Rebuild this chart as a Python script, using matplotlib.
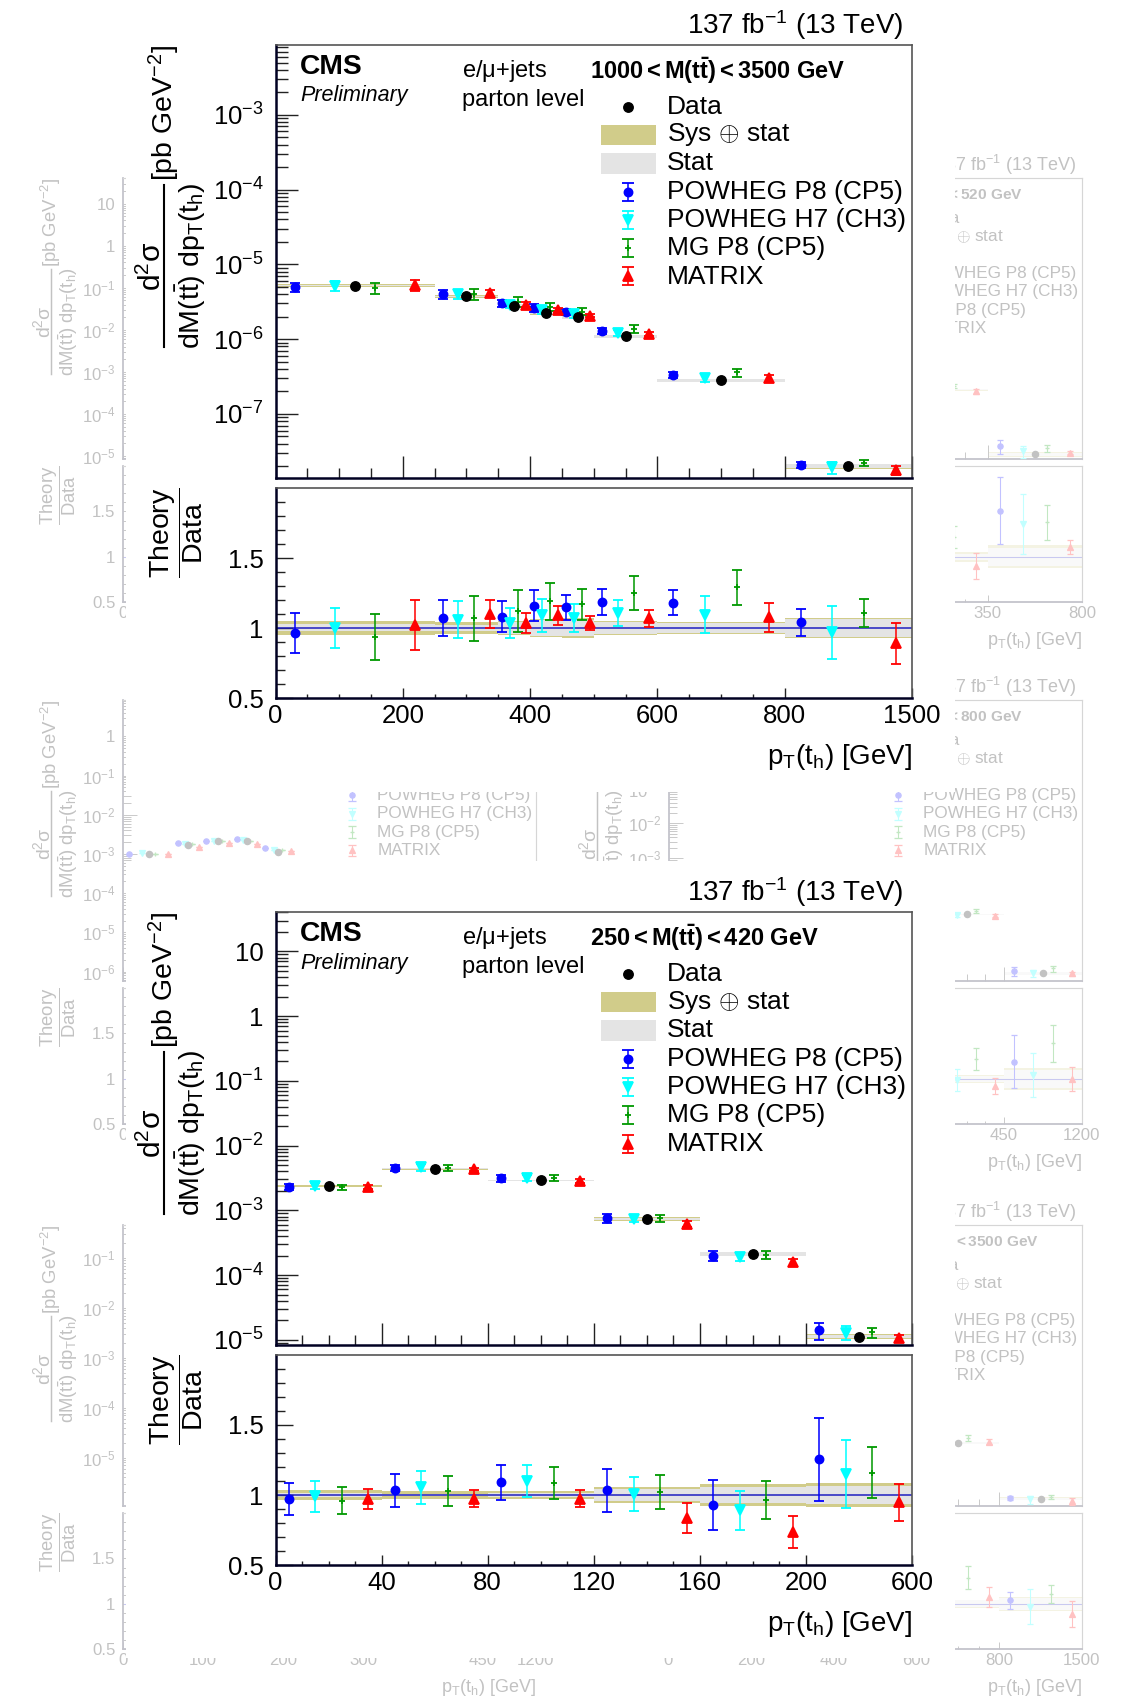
import numpy as np
import matplotlib
matplotlib.use("Agg")
import matplotlib.pyplot as plt
from matplotlib.colors import to_rgb
from matplotlib.patches import Rectangle
from matplotlib.ticker import FixedLocator, FuncFormatter, NullFormatter

W, H = 1121, 1701
nan = np.nan
plt.rcParams['font.family'] = ['Liberation Sans', 'DejaVu Sans']
plt.rcParams['mathtext.fontset'] = 'custom'
plt.rcParams['mathtext.rm'] = 'Liberation Sans'
plt.rcParams['mathtext.it'] = 'Liberation Sans:italic'
plt.rcParams['mathtext.bf'] = 'Liberation Sans:bold'
plt.rcParams['mathtext.sf'] = 'Liberation Sans'

# ---- 1000 < M(tt) < 3500 GeV ----
edges_hi = [0, 250, 350, 400, 450, 500, 600, 800, 1500]
data_hi = [5.2e-6, 3.75e-6, 2.8e-6, 2.27e-6, 2.0e-6, 1.09e-6, 2.8e-7, 2.0e-8]
p8_hi = [5.0e-6, 4.0e-6, 3.0e-6, 2.63e-6, 2.29e-6, 1.29e-6, 3.3e-7, 2.08e-8]
h7_hi = [5.2e-6, 3.97e-6, 2.9e-6, 2.47e-6, 2.14e-6, 1.21e-6, 3.07e-7, 1.94e-8]
mg_hi = [4.87e-6, 4.0e-6, 3.14e-6, 2.7e-6, 2.34e-6, 1.36e-6, 3.6e-7, 2.22e-8]
mx_hi = [5.3e-6, 4.12e-6, 2.9e-6, 2.47e-6, 2.07e-6, 1.17e-6, 3.01e-7, 1.78e-8]
p8_r_hi = [0.964, 1.07, 1.08, 1.16, 1.147, 1.186, 1.18, 1.04]
h7_r_hi = [1.0, 1.06, 1.035, 1.09, 1.07, 1.107, 1.095, 0.97]
mg_r_hi = [0.936, 1.07, 1.12, 1.19, 1.17, 1.25, 1.29, 1.11]
mx_r_hi = [1.02, 1.10, 1.035, 1.09, 1.035, 1.07, 1.076, 0.89]
p8_e_hi = [0.14, 0.13, 0.11, 0.11, 0.09, 0.09, 0.09, 0.095]
h7_e_hi = [0.14, 0.13, 0.11, 0.12, 0.10, 0.09, 0.13, 0.19]
mg_e_hi = [0.165, 0.16, 0.15, 0.13, 0.11, 0.12, 0.125, 0.10]
mx_e_hi = [0.18, 0.10, 0.07, 0.07, 0.05, 0.06, 0.105, 0.145]
tot_hi = [0.05, 0.045, 0.05, 0.065, 0.07, 0.048, 0.045, 0.072]
stat_hi = [0.025, 0.022, 0.04, 0.055, 0.06, 0.04, 0.038, 0.062]

# ---- 250 < M(tt) < 420 GeV ----
edges_lo = [0, 40, 80, 120, 160, 200, 600]
data_lo = [2.38e-3, 4.4e-3, 2.9e-3, 7.4e-4, 2.13e-4, 1.12e-5]
p8_lo = [2.32e-3, 4.55e-3, 3.16e-3, 7.64e-4, 1.98e-4, 1.41e-5]
h7_lo = [2.36e-3, 4.64e-3, 3.19e-3, 7.45e-4, 1.9e-4, 1.29e-5]
mg_lo = [2.28e-3, 4.53e-3, 3.15e-3, 7.55e-4, 2.06e-4, 1.3e-5]
mx_lo = [2.31e-3, 4.29e-3, 2.83e-3, 6.19e-4, 1.57e-4, 1.06e-5]
p8_r_lo = [0.974, 1.033, 1.09, 1.033, 0.93, 1.255]
h7_r_lo = [0.99, 1.054, 1.10, 1.007, 0.89, 1.15]
mg_r_lo = [0.96, 1.03, 1.085, 1.02, 0.967, 1.16]
mx_r_lo = [0.97, 0.975, 0.975, 0.837, 0.738, 0.948]
p8_e_lo = [0.115, 0.118, 0.126, 0.153, 0.177, 0.295]
h7_e_lo = [0.11, 0.115, 0.117, 0.124, 0.14, 0.243]
mg_e_lo = [0.097, 0.106, 0.113, 0.12, 0.135, 0.18]
mx_e_lo = [0.07, 0.06, 0.06, 0.105, 0.115, 0.133]
tot_lo = [0.035, 0.03, 0.03, 0.06, 0.078, 0.083]
stat_lo = [0.012, 0.01, 0.012, 0.045, 0.06, 0.066]

# ---- faded frames showing behind (only the bins that can be seen) ----
# 420 < M < 520
edges_g1 = [250, 350, 800]
data_g1 = [3.6e-4, 1.0e-5]
p8_g1, h7_g1, mg_g1, mx_g1 = [nan, 1.6e-5], [nan, 1.2e-5], [4.4e-4, 1.4e-5], [3.3e-4, 1.1e-5]
p8_r_g1, h7_r_g1, mg_r_g1, mx_r_g1 = [nan, 1.51], [nan, 1.36], [1.22, 1.38], [0.90, 1.11]
p8_e_g1, h7_e_g1, mg_e_g1, mx_e_g1 = [nan, 0.37], [nan, 0.33], [0.12, 0.19], [0.14, 0.08]
tot_g1, stat_g1 = [0.05, 0.126], [0.03, 0.10]
# 620 < M < 800
edges_g2 = [350, 450, 1200]
data_g2 = [2.35e-5, 4.6e-7]
p8_g2, h7_g2, mg_g2, mx_g2 = [nan, 5.5e-7], [2.3e-5, 4.8e-7], [2.9e-5, 6.4e-7], [2.15e-5, 4.6e-7]
p8_r_g2, h7_r_g2, mg_r_g2, mx_r_g2 = [nan, 1.19], [0.99, 1.04], [1.22, 1.39], [0.92, 1.0]
p8_e_g2, h7_e_g2, mg_e_g2, mx_e_g2 = [nan, 0.29], [0.12, 0.24], [0.125, 0.2], [0.09, 0.13]
tot_g2, stat_g2 = [0.045, 0.12], [0.03, 0.10]
# 520 < M < 620
edges_g3 = [0, 75, 115, 160, 200, 250]
data_g3 = [1.0e-3, 1.7e-3, 2.1e-3, 2.1e-3, 1.1e-3]
p8_g3 = [1.0e-3, 1.9e-3, 2.2e-3, 2.4e-3, 1.4e-3]
h7_g3 = [1.05e-3, 1.85e-3, 2.2e-3, 2.3e-3, 1.3e-3]
mg_g3 = [1.0e-3, 1.8e-3, 2.15e-3, 2.2e-3, 1.3e-3]
mx_g3 = [1.0e-3, 1.5e-3, 1.9e-3, 1.8e-3, 1.2e-3]

legend_labels = ['Data', r'Sys $\oplus$ stat', 'Stat', 'POWHEG P8 (CP5)',
                 'POWHEG H7 (CH3)', 'MG P8 (CP5)', 'MATRIX']

OLIVE = '#d1cc8a'
GREY = '#e4e4e4'
models = [  # colour, marker, size, offset in bin
    ('#0000ff', 'o', 5.8, 1 / 8),
    ('#00ffff', 'v', 6.5, 3 / 8),
    ('#009900', '+', 5.0, 5 / 8),
    ('#ff0000', '^', 6.5, 7 / 8),
]

fig = plt.figure(figsize=(W / 100, H / 100), dpi=100)


def pix_layer(z):
    ax = fig.add_axes([0, 0, 1, 1], zorder=z)
    ax.set_xlim(0, W)
    ax.set_ylim(H, 0)
    ax.axis('off')
    ax.patch.set_alpha(0)
    return ax


under = pix_layer(0.5)
mask = pix_layer(1)
over = pix_layer(10)
# white background of the two front frames (x0, y0, x1, y1 in pixels)
boxes = [(126, 0, 955, 792), (126, 861, 955, 1658)]
for bx in boxes:
    mask.add_patch(Rectangle((bx[0], bx[1]), bx[2] - bx[0], bx[3] - bx[1], color='white', lw=0))
ghost_axes = []


def fade(c, a):
    r, g, b = to_rgb(c)
    return (1 - a * (1 - r), 1 - a * (1 - g), 1 - a * (1 - b))


def squash(knee, f):
    fwd = lambda x: np.where(np.asarray(x) <= knee, x, knee + (np.asarray(x) - knee) * f)
    inv = lambda y: np.where(np.asarray(y) <= knee, y, knee + (np.asarray(y) - knee) / f)
    return fwd, inv


def log_fmt(v, pos):
    e = int(round(np.log10(v)))
    if e == 0:
        return '1'
    if e == 1:
        return '10'
    return r'$10^{%d}$' % e


def panel(x0, x1, top, s, a, tax, z, xlim, knee, fac, xmajor, xlabels, xminor, ylim,
          mlabel, edges=None, data=None, theo=None, ratios=None, errs=None,
          tot=None, stat=None):
    up = fig.add_axes([x0 / W, 1 - (top + 433 * s) / H, (x1 - x0) / W, 433 * s / H], zorder=z)
    rt = fig.add_axes([x0 / W, 1 - (top + 653 * s) / H, (x1 - x0) / W, 210 * s / H], zorder=z)
    if a < 1:
        ghost_axes.extend([up, rt])
    C = lambda c: fade(c, a)
    lw = max(s, 0.7)
    fwd, inv = squash(knee, fac)
    for ax in (up, rt):
        ax.set_xscale('function', functions=(fwd, inv))
        ax.set_xlim(*xlim)
    rt.axhline(1.0, color=C('#2020c0'), lw=1.1 * lw, zorder=2)
    if edges is not None:
        e = np.array(edges, float)
        lo, hi = fwd(e[:-1]), fwd(e[1:])
        data = np.array(data, float)
        if tot is not None:
            for i in range(len(data)):
                w = e[i + 1] - e[i]
                up.bar(e[i], 2 * tot[i] * data[i], bottom=data[i] * (1 - tot[i]), width=w,
                       align='edge', color=C(OLIVE), lw=0, zorder=1)
                up.bar(e[i], 2 * stat[i] * data[i], bottom=data[i] * (1 - stat[i]), width=w,
                       align='edge', color=C(GREY), lw=0, zorder=1.1)
                rt.bar(e[i], 2 * tot[i], bottom=1 - tot[i], width=w, align='edge',
                       color=C(OLIVE), lw=0, zorder=1)
                rt.bar(e[i], 2 * stat[i], bottom=1 - stat[i], width=w, align='edge',
                       color=C(GREY), lw=0, zorder=1.1)
        for k, (c, m, ms, off) in enumerate(models):
            x = inv(lo + off * (hi - lo))
            th = np.array(theo[k], float)
            er = np.array(errs[k], float) if errs is not None else np.zeros(len(th))
            kw = dict(fmt=m, color=C(c), ms=ms * s, mew=1.3 * lw, elinewidth=1.1 * lw,
                      capsize=3.5 * s, capthick=1.0 * lw, zorder=3)
            up.errorbar(x, th, yerr=th * er, **kw)
            if ratios is not None:
                rt.errorbar(x, ratios[k], yerr=er, **kw)
        up.plot(inv(lo + 0.5 * (hi - lo)), data, 'o', color=C('black'), ms=6.8 * s, zorder=4)

    up.set_yscale('log')
    up.set_ylim(*ylim)
    decs = np.arange(np.floor(np.log10(ylim[0])), np.ceil(np.log10(ylim[1])) + 1)
    up.yaxis.set_major_locator(FixedLocator(10.0 ** decs))
    up.yaxis.set_minor_locator(FixedLocator([k * 10.0 ** d for d in decs for k in range(2, 10)]))
    up.yaxis.set_major_formatter(FuncFormatter(log_fmt))
    up.yaxis.set_minor_formatter(NullFormatter())
    for ax in (up, rt):
        ax.xaxis.set_major_locator(FixedLocator(xmajor))
        ax.xaxis.set_minor_locator(FixedLocator(xminor))
        ax.xaxis.set_minor_formatter(NullFormatter())
    up.xaxis.set_major_formatter(NullFormatter())
    rt.xaxis.set_major_formatter(FuncFormatter(lambda v, p: xlabels[p] if p < len(xlabels) else ''))
    rt.set_ylim(0.5, 2.0)
    rt.yaxis.set_major_locator(FixedLocator([0.5, 1.0, 1.5]))
    rt.yaxis.set_major_formatter(FuncFormatter(lambda v, p: ['0.5', '1', '1.5'][p]))
    rt.yaxis.set_minor_locator(FixedLocator([0.6, 0.7, 0.8, 0.9, 1.1, 1.2, 1.3, 1.4,
                                             1.6, 1.7, 1.8, 1.9]))
    for ax, lens in ((up, (15.5, 7.5, 15.8, 8.6)), (rt, (7.2, 3.0, 12.0, 6.3))):
        for sp in ['top', 'right']:
            ax.spines[sp].set_color(C('#555555'))
            ax.spines[sp].set_linewidth(1.2 * lw)
        for sp in ['left', 'bottom']:
            ax.spines[sp].set_color(C('#000022'))
            ax.spines[sp].set_linewidth(1.8 * lw)
        ax.tick_params(which='both', direction='in', top=False, right=False,
                       width=1.0 * lw, color=C('#222222'), labelcolor=C('black'),
                       labelsize=18.5 * s)
        ax.tick_params(axis='x', which='major', length=lens[0] * s, pad=4 * s)
        ax.tick_params(axis='x', which='minor', length=lens[1] * s)
        ax.tick_params(axis='y', which='major', length=lens[2] * s, pad=8.5 * s)
        ax.tick_params(axis='y', which='minor', length=lens[3] * s)

    # texts
    k = C('black')
    tax.text(x1 - 8.5 * s, top - 20 * s, r'137 fb$^{-1}$ (13 TeV)', ha='right', va='center',
             fontsize=20 * s, color=k)
    tax.text(x0 + 24.5 * s, top + 22 * s, 'CMS', ha='left', va='center', fontsize=20.3 * s,
             weight='bold', color=k)
    tax.text(x0 + 24.5 * s, top + 51 * s, 'Preliminary', ha='left', va='center',
             fontsize=15.5 * s, style='italic', color=k)
    tax.text(x0 + 187 * s, top + 26 * s, r'e/$\mathrm{\mu}$+jets', ha='left', va='center',
             fontsize=17 * s, color=k)
    tax.text(x0 + 187 * s, top + 55 * s, 'parton level', ha='left', va='center',
             fontsize=17 * s, color=k)
    tax.text(x0 + 314.2 * s, top + 26 * s, mlabel, ha='left', va='center', fontsize=17 * s, color=k)
    # y title as a fraction: unit, numerator, bar, denominator
    tax.text(x0 - 111 * s, top, r'[pb GeV$^{-2}$]', rotation=90, ha='center', va='top',
             fontsize=20.5 * s, color=k)
    tax.text(x0 - 123.5 * s, top + 221 * s, r'$\mathrm{d^{2}\sigma}$', rotation=90,
             ha='center', va='center', fontsize=21.5 * s, color=k)
    tax.plot([x0 - 111.2 * s] * 2, [top + 140 * s, top + 302 * s], color=k, lw=1.5 * lw)
    tax.text(x0 - 85 * s, top + 221 * s, r'$\mathrm{dM(t\bar{t})\ dp_{T}(t_{h})}$', rotation=90,
             ha='center', va='center', fontsize=20.5 * s, color=k)
    tax.text(x0 - 99.5 * s, top + 442 * s, r'$\dfrac{\mathrm{Theory}}{\mathrm{Data}}$', rotation=90,
             ha='center', va='top', fontsize=20.5 * s, color=k)
    tax.text(x1, top + 712 * s, r'$\mathrm{p_{T}(t_{h})}$ [GeV]', ha='right', va='center',
             fontsize=20 * s, color=k)

    # legend
    rows = [top + (61.7 + 28.3 * j) * s for j in range(7)]
    for yy, lab in zip(rows, legend_labels):
        tax.text(x0 + 391.1 * s, yy, lab, ha='left', va='center', fontsize=19 * s, color=k)
    hx = x0 + 352.5 * s
    tax.plot([hx], [rows[0]], 'o', color=k, ms=6.8 * s)
    tax.add_patch(Rectangle((x0 + 325.5 * s, rows[1] - 10.3 * s), 54.5 * s, 20.7 * s,
                            color=C(OLIVE), lw=0))
    tax.add_patch(Rectangle((x0 + 325.5 * s, rows[2] - 10.3 * s), 54.5 * s, 20.7 * s,
                            color=C(GREY), lw=0))
    for (c, m, ms, off), yy in zip(models, rows[3:]):
        tax.errorbar([hx], [yy], yerr=[9 * s], fmt=m, color=C(c), ms=ms * s, mew=1.3 * lw,
                     elinewidth=1.1 * lw, capsize=4.5 * s, capthick=1.0 * lw)


lab_hi = r'$\mathbf{1000 < M(t\bar{t}) < 3500\ GeV}$'
lab_lo = r'$\mathbf{250 < M(t\bar{t}) < 420\ GeV}$'
cfg_hi = dict(xlim=(0, 1500), knee=800, fac=200 / 700, xmajor=[0, 200, 400, 600, 800, 1500],
              xlabels=['0', '200', '400', '600', '800', '1500'], xminor=list(range(50, 800, 50)),
              ylim=(1.39e-8, 8.6e-3))
cfg_lo = dict(xlim=(0, 600), knee=200, fac=40 / 400, xmajor=[0, 40, 80, 120, 160, 200, 600],
              xlabels=['0', '40', '80', '120', '160', '200', '600'], xminor=list(range(10, 200, 10)),
              ylim=(8.3e-6, 40.7))
set_hi = dict(edges=edges_hi, data=data_hi, theo=[p8_hi, h7_hi, mg_hi, mx_hi],
              ratios=[p8_r_hi, h7_r_hi, mg_r_hi, mx_r_hi],
              errs=[p8_e_hi, h7_e_hi, mg_e_hi, mx_e_hi], tot=tot_hi, stat=stat_hi)
set_lo = dict(edges=edges_lo, data=data_lo, theo=[p8_lo, h7_lo, mg_lo, mx_lo],
              ratios=[p8_r_lo, h7_r_lo, mg_r_lo, mx_r_lo],
              errs=[p8_e_lo, h7_e_lo, mg_e_lo, mx_e_lo], tot=tot_lo, stat=stat_lo)

# ---- faded frames behind ----
GA, GS = 0.24, 0.65
panel(123, 536, 178, GS, GA, under, 0, mlabel=lab_lo, **cfg_lo)
panel(123, 536, 700, GS, GA, under, 0, xlim=(0, 600), knee=600, fac=1.0,
      xmajor=[0, 200, 400, 600], xlabels=['0', '200', '400', '600'],
      xminor=list(range(50, 600, 50)), ylim=(5.6e-7, 8.5),
      mlabel=r'$\mathbf{520 < M(t\bar{t}) < 620\ GeV}$',
      edges=edges_g3, data=data_g3, theo=[p8_g3, h7_g3, mg_g3, mx_g3])
panel(123, 536, 1225, GS, GA, under, 0, xlim=(0, 1200), knee=450, fac=0.088,
      xmajor=[0, 100, 200, 300, 450, 1200], xlabels=['0', '100', '200', '300', '450', '1200'],
      xminor=list(range(25, 450, 25)), ylim=(1.05e-6, 0.46),
      mlabel=r'$\mathbf{800 < M(t\bar{t}) < 1000\ GeV}$')
panel(669, 1082, 178, GS, GA, under, 0, xlim=(0, 800), knee=350, fac=0.23,
      xmajor=[0, 100, 200, 350, 800], xlabels=['0', '100', '200', '350', '800'],
      xminor=list(range(25, 350, 25)), ylim=(7.6e-6, 44),
      mlabel=r'$\mathbf{420 < M(t\bar{t}) < 520\ GeV}$',
      edges=edges_g1, data=data_g1, theo=[p8_g1, h7_g1, mg_g1, mx_g1],
      ratios=[p8_r_g1, h7_r_g1, mg_r_g1, mx_r_g1], errs=[p8_e_g1, h7_e_g1, mg_e_g1, mx_e_g1],
      tot=tot_g1, stat=stat_g1)
panel(669, 1082, 700, GS, GA, under, 0, xlim=(0, 1200), knee=450, fac=0.14,
      xmajor=[0, 100, 200, 300, 450, 1200], xlabels=['0', '100', '200', '300', '450', '1200'],
      xminor=list(range(25, 450, 25)), ylim=(2.7e-7, 37),
      mlabel=r'$\mathbf{620 < M(t\bar{t}) < 800\ GeV}$',
      edges=edges_g2, data=data_g2, theo=[p8_g2, h7_g2, mg_g2, mx_g2],
      ratios=[p8_r_g2, h7_r_g2, mg_r_g2, mx_r_g2], errs=[p8_e_g2, h7_e_g2, mg_e_g2, mx_e_g2],
      tot=tot_g2, stat=stat_g2)
panel(668, 1082, 1225, GS, GA, under, 0, mlabel=lab_hi, **cfg_hi, **set_hi)

# ---- front frames ----
panel(275.5, 912, 45, 1.0, 1.0, over, 2, mlabel=lab_hi, **cfg_hi, **set_hi)
panel(275.5, 912, 912, 1.0, 1.0, over, 2, mlabel=lab_lo, **cfg_lo, **set_lo)

# drop faded texts that sit completely under the front frames
fig.canvas.draw()
rend = fig.canvas.get_renderer()


def covered(bb):
    for bx in boxes:
        if bb.x0 >= bx[0] and bb.x1 <= bx[2] and H - bb.y1 >= bx[1] and H - bb.y0 <= bx[3]:
            return True
    return False


for t in under.texts:
    if covered(t.get_window_extent(rend)):
        t.set_visible(False)
for ax in ghost_axes:
    for tk in ax.xaxis.get_major_ticks() + ax.yaxis.get_major_ticks():
        if tk.label1.get_visible() and covered(tk.label1.get_window_extent(rend)):
            tk.label1.set_visible(False)

fig.savefig('out.png', dpi=100)
